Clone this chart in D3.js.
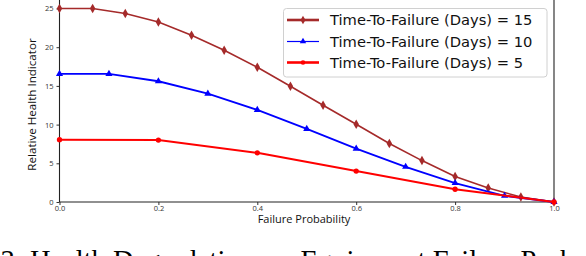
<!DOCTYPE html>
<html>
<head>
<meta charset="utf-8">
<script src="https://cdn.jsdelivr.net/npm/d3@7"></script>
<style>
  html, body { margin: 0; padding: 0; background: #fff; }
  svg { display: block; }
</style>
</head>
<body>
<svg id="chart" width="586" height="256"></svg>
<script>
// ---- data ----
const xTicks = [0, 0.2, 0.4, 0.6, 0.8, 1.0];
const yTicks = [0, 5, 10, 15, 20, 25];

const x15 = [0, 0.067, 0.133, 0.2, 0.267, 0.333, 0.4, 0.467, 0.533, 0.6, 0.667, 0.733, 0.8, 0.867, 0.933, 1.0];
const y15 = [25, 25, 24.35, 23.25, 21.55, 19.6, 17.4, 14.95, 12.5, 10.05, 7.55, 5.35, 3.3, 1.8, 0.65, 0];

const x10 = [0, 0.1, 0.2, 0.3, 0.4, 0.5, 0.6, 0.7, 0.8, 0.9, 1.0];
const y10 = [16.55, 16.55, 15.6, 14.0, 11.9, 9.45, 6.9, 4.55, 2.45, 0.8, 0];

const x5 = [0, 0.2, 0.4, 0.6, 0.8, 1.0];
const y5 = [8.05, 8.0, 6.35, 4.0, 1.65, 0];

const seriesNames = ["Time-To-Failure (Days) = 15", "Time-To-Failure (Days) = 10", "Time-To-Failure (Days) = 5"];
const xLabel = "Failure Probability";
const yLabel = "Relative Health Indicator";
const caption = "3: Health Degradation vs. Equipment Failure Probability";

// ---- layout ----
const svg = d3.select("#chart");
const mLeft = 59.5, mRight = 554, mBottom = 202, mTop = 8.5;
const x = d3.scaleLinear().domain([0, 1]).range([mLeft, mRight]);
const y = d3.scaleLinear().domain([0, 25]).range([mBottom, mTop]);

const series = [
  { xs: x15, ys: y15, color: "#a52a2a", width: 1.6, legendWidth: 2.6, symbol: d3.symbolDiamond, size: 26, name: seriesNames[0] },
  { xs: x10, ys: y10, color: "#0000ff", width: 1.8, legendWidth: 1.2, symbol: d3.symbolTriangle, size: 22, name: seriesNames[1] },
  { xs: x5,  ys: y5,  color: "#ff0000", width: 2.0, legendWidth: 2.6, symbol: d3.symbolCircle, size: 22, name: seriesNames[2] }
];

const tickFont = "Open Sans, Liberation Sans, sans-serif";

// axes
const xAxis = d3.axisBottom(x).tickValues(xTicks).tickFormat(d3.format(".1f")).tickSize(3).tickPadding(1);
const gx = svg.append("g").attr("transform", `translate(0,${mBottom})`).call(xAxis);
gx.select(".domain").remove();
gx.selectAll("text").attr("font-size", 7.5).attr("font-family", tickFont).attr("fill", "#333");
gx.selectAll("line").attr("stroke", "#333");

const yAxis = d3.axisLeft(y).tickValues(yTicks).tickFormat(d3.format("d")).tickSize(3).tickPadding(3);
const gy = svg.append("g").attr("transform", `translate(${mLeft},0)`).call(yAxis);
gy.select(".domain").remove();
gy.selectAll("text").attr("font-size", 7.5).attr("font-family", tickFont).attr("fill", "#333");
gy.selectAll("line").attr("stroke", "#333");

// spines
svg.append("line").attr("x1", mLeft).attr("x2", mLeft).attr("y1", -2).attr("y2", mBottom).attr("stroke", "#222").attr("stroke-width", 1.1);
svg.append("line").attr("x1", mRight).attr("x2", mRight).attr("y1", -2).attr("y2", mBottom).attr("stroke", "#222").attr("stroke-width", 1.1);
svg.append("line").attr("x1", mLeft).attr("x2", mRight).attr("y1", mBottom).attr("y2", mBottom).attr("stroke", "#222").attr("stroke-width", 1.1);

// lines and markers
const line = d3.line().x(d => x(d[0])).y(d => y(d[1]));
series.forEach(s => {
  const pts = s.xs.map((v, i) => [v, s.ys[i]]);
  svg.append("path").datum(pts).attr("d", line)
    .attr("fill", "none").attr("stroke", s.color).attr("stroke-width", s.width);
  svg.append("g").selectAll("path").data(pts).join("path")
    .attr("transform", d => `translate(${x(d[0])},${y(d[1])})`)
    .attr("d", d3.symbol().type(s.symbol).size(s.size))
    .attr("fill", s.color);
});

// axis labels
svg.append("text").attr("x", 304).attr("y", 223).attr("text-anchor", "middle")
  .attr("font-family", tickFont).attr("font-size", 11).attr("fill", "#111").text(xLabel);
svg.append("text").attr("transform", "translate(36,104.5) rotate(-90)").attr("text-anchor", "middle")
  .attr("font-family", tickFont).attr("font-size", 11.6).attr("fill", "#111").text(yLabel);

// legend
const lg = svg.append("g");
lg.append("rect").attr("x", 283.5).attr("y", 8.5).attr("width", 263.5).attr("height", 68.5)
  .attr("rx", 3).attr("fill", "#fff").attr("fill-opacity", 0.85).attr("stroke", "#d0d0d0").attr("stroke-width", 1);
const legendY = [20, 41.5, 62.5];
series.forEach((s, i) => {
  const ly = legendY[i];
  lg.append("line").attr("x1", 287).attr("x2", 319).attr("y1", ly).attr("y2", ly)
    .attr("stroke", s.color).attr("stroke-width", s.legendWidth);
  lg.append("path").attr("transform", `translate(303,${ly})`)
    .attr("d", d3.symbol().type(s.symbol).size(s.size * 0.8)).attr("fill", s.color);
  lg.append("text").attr("x", 330).attr("y", ly + 5.3)
    .attr("font-family", "DejaVu Sans, sans-serif").attr("font-size", 14.7).attr("fill", "#111").text(s.name);
});

// caption (cut off at bottom, as in the reference)
svg.append("text").attr("x", 0.6).attr("y", 270).attr("font-family", "Liberation Serif, Times New Roman, serif")
  .attr("font-size", 28.5).attr("fill", "#000").text(caption);
</script>
</body>
</html>
